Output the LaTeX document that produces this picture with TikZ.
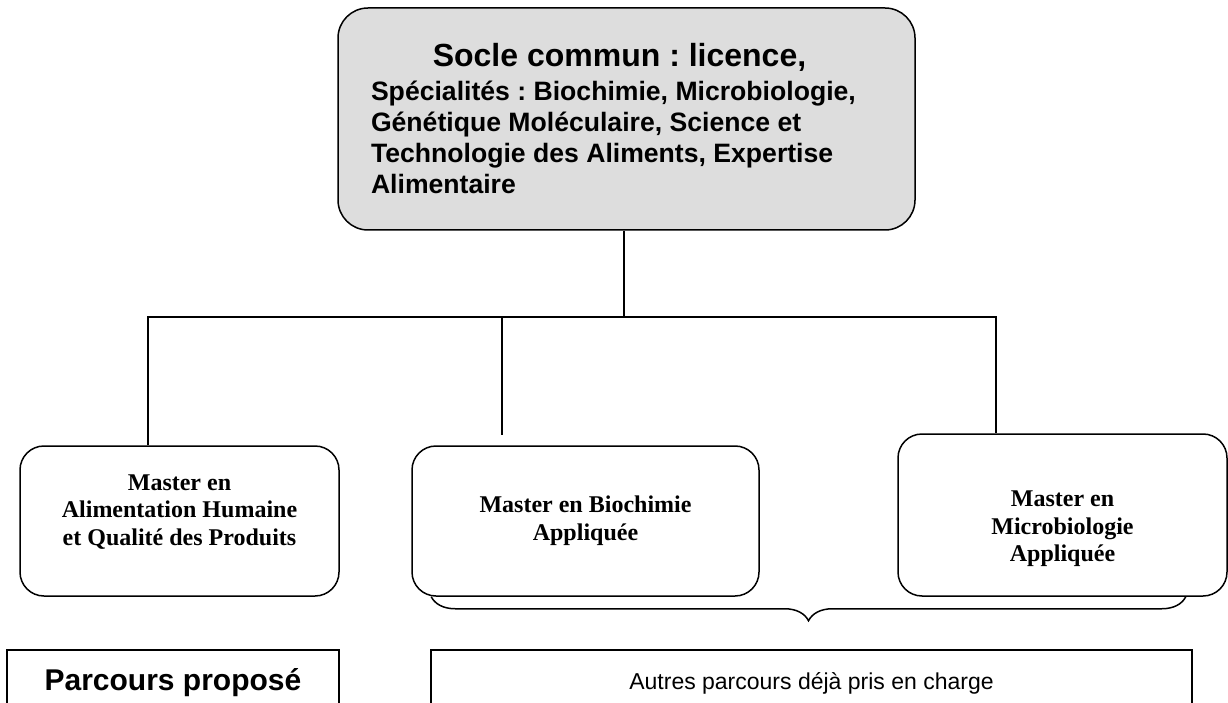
\documentclass[tikz,border=0pt]{standalone}
\usepackage{fontspec}
\setmainfont{Liberation Serif}
\newfontfamily\arialfont{Liberation Sans}
\usetikzlibrary{positioning,calc,decorations.pathreplacing}
\definecolor{SocleFill}{HTML}{DDDDDD}
\frenchspacing

\begin{document}
\begin{tikzpicture}[x=1pt, y=-1pt, line width=1.5pt, socle/.style={draw,rounded corners=30pt,fill=SocleFill,minimum width=577pt,minimum height=222pt,text width=511pt,align=left,inner sep=0pt,font=\arialfont\bfseries\fontsize{26.6}{31}\selectfont}, mbox/.style={draw,rounded corners=24pt,inner sep=0pt}, mtxt/.style={font=\bfseries\fontsize{24}{27.6}\selectfont,align=center,inner sep=0pt}, pbox/.style={draw,minimum height=66pt,inner sep=0pt}, link/.style={line width=1.5pt}]
\useasboundingbox (0,0) rectangle (1228,703);
\node[socle] (socle) at (626.5,119) {\spaceskip=0pt \xspaceskip=0pt
  \makebox[\linewidth]{\fontsize{32}{35}\selectfont Socle commun : licence,\hspace{14pt}}\\[3pt]
  Spécialités : Biochimie, Microbiologie,\\ Génétique Moléculaire, Science et\\ Technologie des Aliments, Expertise\\ Alimentaire\par};
\node[mbox,minimum width=319pt,minimum height=150pt] (alim) at (179.5,521) {};
\node[mtxt] (alimt) at ($(alim)+(0,-9)$) {Master en\\Alimentation Humaine\\et Qualité des Produits};
\node[mbox,minimum width=347pt,minimum height=150pt] (bioc) at (585.5,521) {};
\node[mtxt] (bioct) at (bioc) {Master en Biochimie\\Appliquée};
\node[mbox,minimum width=329pt,minimum height=162pt] (micro) at (1062.5,515) {};
\node[mtxt] (microt) at ($(micro)+(0,14)$) {Master en\\Microbiologie\\Appliquée};
\node[pbox,minimum width=332pt,font=\arialfont\bfseries\fontsize{30}{34}\selectfont] (prop) at (173,683) {Parcours proposé};
\node[pbox,minimum width=761pt,font=\arialfont\fontsize{23}{27}\selectfont] (autres) at (811.5,683) {Autres parcours déjà pris en charge};
% arbre
\coordinate (hub) at (624,317);
\coordinate (j1) at (148,317);
\coordinate (j2) at (502,317);
\coordinate (j3) at (996,317);
\draw[link] (hub |- socle.south) -- (hub);
\draw[link] (j1 |- alim.north) -- (j1) -- (j3) -- (j3 |- micro.north);
\draw[link] (j2) -- ++(0,118);
% accolade
\draw[link,decorate,decoration={brace,mirror,amplitude=24pt}] ($(bioc.south west)+(20,0)$) -- ($(micro.south east)+(-42,0)$);
\end{tikzpicture}
\end{document}
